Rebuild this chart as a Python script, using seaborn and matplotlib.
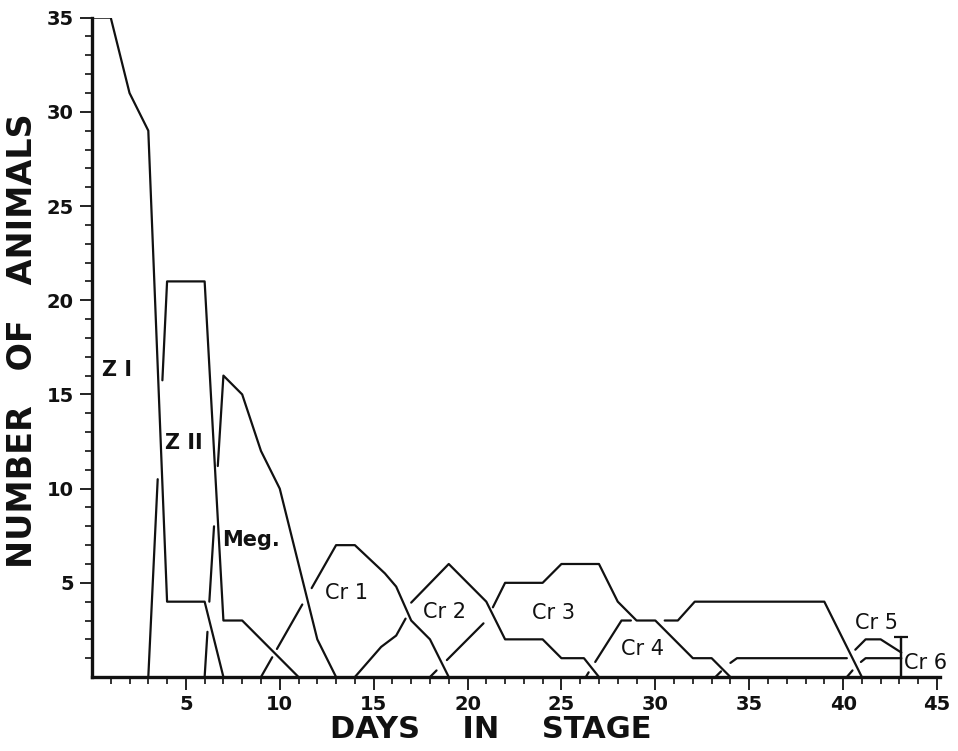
import numpy as np
import pandas as pd
import matplotlib
matplotlib.use("Agg")
import matplotlib.pyplot as plt
import seaborn as sns

nan = np.nan

# --- data (days, number of animals); nan = pen lifted where lines cross ---
zi_x = [0, 1, 2, 3, 4, 6, 7]
zi_y = [35, 35, 31, 29, 4, 4, 0]

zii_x = [3, 3.5, nan, 3.75, 4, 6, 7, 8, 11]
zii_y = [0, 10.5, nan, 15.75, 21, 21, 3, 3, 0]

meg_x = [6, 6.15, nan, 6.25, 6.5, nan, 6.7, 7, 8, 9, 10, 12, 13]
meg_y = [0, 2.4, nan, 4, 8, nan, 11.2, 16, 15, 12, 10, 2, 0]

cr1_x = [9, 9.6, nan, 9.85, 11.2, nan, 11.7, 13, 14, 15.6, 16.2, 17, 18, 19]
cr1_y = [0, 1.05, nan, 1.49, 3.85, nan, 4.72, 7, 7, 5.5, 4.8, 3, 2, 0]

cr2_x = [14, 15.4, 16.2, 16.7, nan, 17.0, 19, 21, 22, 24, 25, 26.2, 27]
cr2_y = [0, 1.6, 2.2, 3.1, nan, 3.95, 6, 4, 2, 2, 1, 1, 0]

cr3_x = [18, 18.35, nan, 18.9, 20.85, nan, 21.35, 22, 24, 25, 27, 28, 29, 30, 32, 33, 34]
cr3_y = [0, 0.35, nan, 0.9, 2.85, nan, 3.7, 5, 5, 6, 6, 4, 3, 3, 1, 1, 0]

cr4_x = [26.3, 26.45, nan, 26.8, 28.2, 28.7, nan, 30.5, 31.2, 32.1, 39, 41]
cr4_y = [0, 0.25, nan, 0.8, 3, 3, nan, 3, 3, 4, 4, 0]

cr5_x = [33.2, 33.5, nan, 34.0, 34.35, 40.2, nan, 40.65, 41.2, 42, 43.1]
cr5_y = [0, 0.3, nan, 0.75, 1, 1, nan, 1.45, 2, 2, 1.3]

cr6_x = [40.2, 40.5, nan, 40.95, 41.2, 43.1]
cr6_y = [0, 0.35, nan, 0.8, 1, 1]

end_x = [43.1, 43.1]
end_y = [0, 2.15]

label_text = ["Z I", "Z II", "Meg.", "Cr 1", "Cr 2", "Cr 3", "Cr 4", "Cr 5", "Cr 6"]
label_x = [1.35, 4.9, 8.45, 13.55, 18.8, 24.6, 29.3, 41.8, 44.4]
label_y = [16.3, 12.4, 7.25, 4.45, 3.45, 3.4, 1.5, 2.85, 0.75]
label_bold = [True, True, True, False, False, False, False, False, False]

stages = {
    "Z I": (zi_x, zi_y), "Z II": (zii_x, zii_y), "Meg.": (meg_x, meg_y),
    "Cr 1": (cr1_x, cr1_y), "Cr 2": (cr2_x, cr2_y), "Cr 3": (cr3_x, cr3_y),
    "Cr 4": (cr4_x, cr4_y), "Cr 5": (cr5_x, cr5_y), "Cr 6": (cr6_x, cr6_y),
    "end": (end_x, end_y),
}

# long form table, one segment id per unbroken piece of line
rows = []
seg = 0
for name, (xs, ys) in stages.items():
    for x, y in zip(xs, ys):
        if np.isnan(x):
            seg += 1
            continue
        rows.append((name, seg, x, y))
    seg += 1
df = pd.DataFrame(rows, columns=["stage", "seg", "day", "n"])

sns.set_style("ticks")
plt.rcParams["font.family"] = ["DejaVu Sans"]
plt.rcParams["text.color"] = "#111111"
plt.rcParams["axes.labelcolor"] = "#111111"
plt.rcParams["xtick.color"] = "#111111"
plt.rcParams["ytick.color"] = "#111111"

fig = plt.figure(figsize=(9.58, 7.51), dpi=100)
ax = fig.add_axes([0.096, 0.0985, 0.885, 0.878])

sns.lineplot(data=df, x="day", y="n", units="seg", estimator=None, sort=False,
             color="#111111", linewidth=1.6, ax=ax, legend=False)
# cap on the end-of-experiment bar
ax.plot(end_x, end_y, color="#111111", lw=1.6, marker="_", ms=10, mew=1.6, markevery=[1])

for t, x, y, b in zip(label_text, label_x, label_y, label_bold):
    ax.text(x, y, t, ha="center", va="center", fontsize=15,
            fontweight="bold" if b else "normal", color="#111111")

ax.set_xlim(0, 45.15)
ax.set_ylim(0, 35)
ax.set_xticks(range(5, 46, 5))
ax.set_xticks(range(1, 46), minor=True)
ax.set_yticks(range(5, 36, 5))
ax.set_yticks(range(1, 36), minor=True)
ax.tick_params(which="major", length=9, width=1.3, direction="out", labelsize=14, pad=4)
ax.tick_params(which="minor", length=5, width=1.2, direction="out")
for lbl in ax.get_xticklabels() + ax.get_yticklabels():
    lbl.set_fontweight("bold")

for side in ["top", "right"]:
    ax.spines[side].set_visible(False)
for side in ["left", "bottom"]:
    ax.spines[side].set_linewidth(2.4)
    ax.spines[side].set_color("#111111")

ax.set_xlabel("DAYS    IN    STAGE", fontsize=22, fontweight="bold")
ax.set_ylabel("NUMBER   OF   ANIMALS", fontsize=24, fontweight="bold")
ax.xaxis.set_label_coords(0.47, -0.058)
ax.yaxis.set_label_coords(-0.062, 0.51)

fig.savefig("out.png", dpi=100)
